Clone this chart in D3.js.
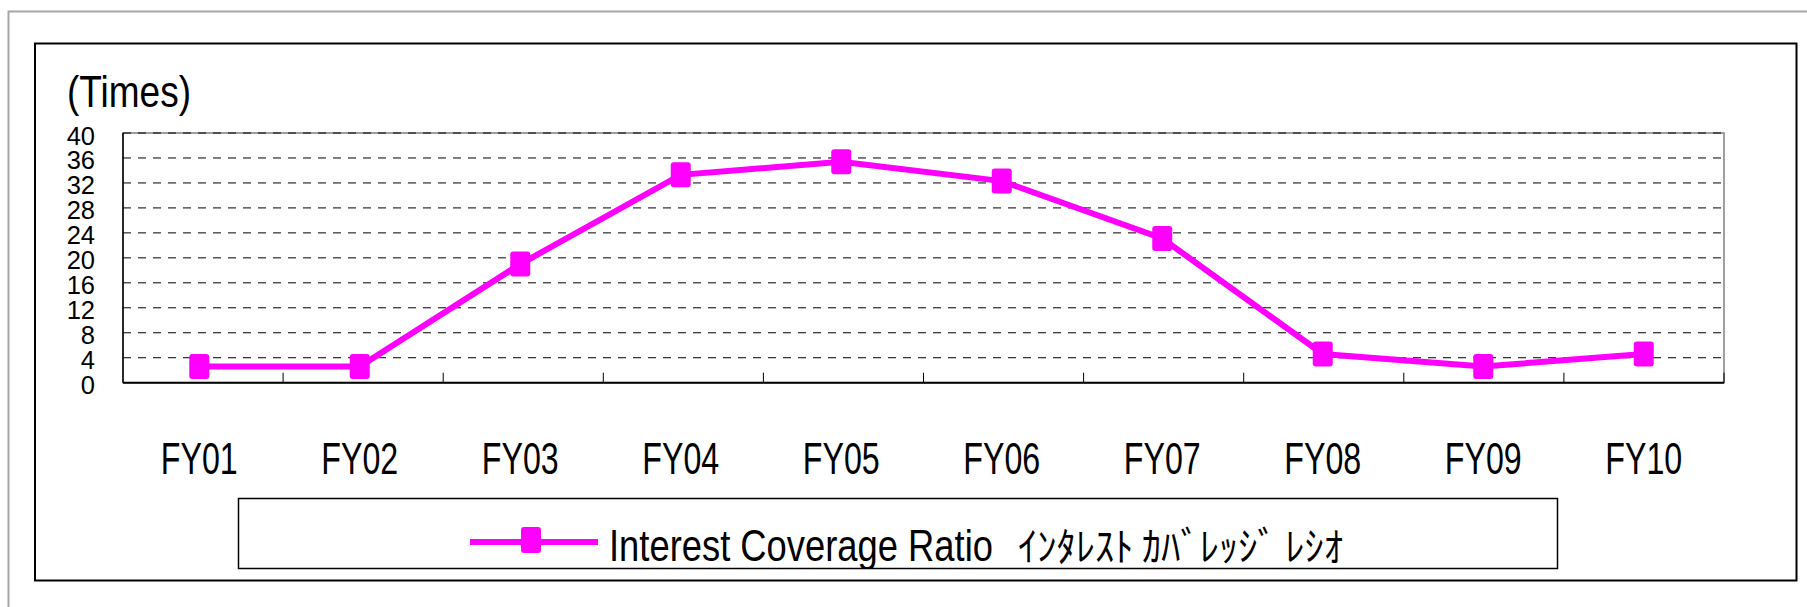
<!DOCTYPE html>
<html>
<head>
<meta charset="utf-8">
<script src="https://cdn.jsdelivr.net/npm/d3@7"></script>
<style>
  html, body { margin: 0; padding: 0; background: #fff; }
  svg { display: block; }
</style>
</head>
<body>
<script>
// ---- data ----
const categories = ["FY01", "FY02", "FY03", "FY04", "FY05", "FY06", "FY07", "FY08", "FY09", "FY10"];
const coverageValues = [2.6, 2.6, 19.0, 33.3, 35.4, 32.3, 23.1, 4.6, 2.6, 4.6];
const yTickValues = [0, 4, 8, 12, 16, 20, 24, 28, 32, 36, 40];
const unitLabel = "(Times)";
const seriesNameEn = "Interest Coverage Ratio";
const seriesNameJa = "ｲﾝﾀﾚｽﾄ ｶﾊﾞﾚｯｼﾞ ﾚｼｵ";

// ---- layout ----
const W = 1807, H = 607;
const plot = { left: 123, right: 1724, top: 133, bottom: 382.7 };
const magenta = "#FF00FF";
const latin = "'Liberation Sans', Arial, 'DejaVu Sans', sans-serif";
const cjk = "'Noto Sans CJK JP', 'Noto Sans CJK SC', sans-serif";

const svg = d3.select("body").append("svg").attr("width", W).attr("height", H);

// condensed text helper: horizontal scale so that the text spans `width`
function condensed(parent, x, y, txt, size, family, width, anchor) {
  const t = parent.append("text")
    .attr("x", 0).attr("y", 0)
    .attr("text-anchor", anchor || "start")
    .attr("font-family", family).attr("font-size", size).attr("fill", "#000")
    .text(txt);
  const natural = t.node().getComputedTextLength();
  const k = natural > 0 ? width / natural : 1;
  t.attr("transform", `translate(${x},${y}) scale(${k},1)`);
  return t;
}

// outer gray border (continues past right / bottom edges)
svg.append("rect").attr("x", 8.5).attr("y", 11.5).attr("width", W).attr("height", H)
  .attr("fill", "#fff").attr("stroke", "#a6a6a6").attr("stroke-width", 2);
// inner chart frame
svg.append("rect").attr("x", 35).attr("y", 43.5).attr("width", 1761.5).attr("height", 537)
  .attr("fill", "#fff").attr("stroke", "#000").attr("stroke-width", 2);

// scales
const xBand = d3.scaleBand().domain(categories).range([plot.left, plot.right]).padding(0);
const xPt = d3.scalePoint().domain(categories).range([plot.left - 4, plot.right]).padding(0.5);
const y = d3.scaleLinear().domain([0, 40]).range([plot.bottom, plot.top]);

// plot border
svg.append("rect").attr("x", plot.left).attr("y", plot.top)
  .attr("width", plot.right - plot.left).attr("height", plot.bottom - plot.top)
  .attr("fill", "#fff").attr("stroke", "#808080").attr("stroke-width", 1.5);

// gridlines
svg.append("g").selectAll("line").data(yTickValues.filter(v => v > 0)).join("line")
  .attr("x1", plot.left).attr("x2", plot.right)
  .attr("y1", d => y(d)).attr("y2", d => y(d))
  .attr("stroke", "#000").attr("stroke-width", 1).attr("stroke-dasharray", "8,7");

// axes lines
svg.append("line").attr("x1", plot.left).attr("x2", plot.left).attr("y1", plot.top).attr("y2", plot.bottom)
  .attr("stroke", "#000").attr("stroke-width", 1.5);
svg.append("line").attr("x1", plot.left).attr("x2", plot.right).attr("y1", plot.bottom).attr("y2", plot.bottom)
  .attr("stroke", "#000").attr("stroke-width", 2);

// x tick marks between categories (pointing inside)
const tickXs = categories.slice(1).map(c => xBand(c)).concat([plot.right]);
svg.append("g").selectAll("line").data(tickXs).join("line")
  .attr("x1", d => d).attr("x2", d => d)
  .attr("y1", plot.bottom).attr("y2", plot.bottom - 10)
  .attr("stroke", "#000").attr("stroke-width", 1);

// y tick labels
svg.append("g").selectAll("text").data(yTickValues).join("text")
  .attr("x", 95).attr("y", d => y(d) + 11.5)
  .attr("text-anchor", "end")
  .attr("font-family", latin).attr("font-size", 25.5).attr("fill", "#000")
  .text(d => d);

// unit label
condensed(svg, 67, 107, unitLabel, 44, latin, 124, "start");

// x category labels
const xLabels = svg.append("g");
categories.forEach(c => condensed(xLabels, xPt(c), 473.5, c, 44, latin, 77, "middle"));

// series line
const lineGen = d3.line().x((d, i) => xPt(categories[i])).y(d => y(d));
svg.append("path").datum(coverageValues).attr("d", lineGen)
  .attr("fill", "none").attr("stroke", magenta).attr("stroke-width", 6);

// markers
svg.append("g").selectAll("rect").data(coverageValues).join("rect")
  .attr("x", (d, i) => xPt(categories[i]) - 10).attr("y", d => y(d) - 12.5)
  .attr("width", 20).attr("height", 25).attr("rx", 3)
  .attr("fill", magenta);

// legend
const leg = { x: 238.5, y: 498.5, w: 1319, h: 70 };
svg.append("clipPath").attr("id", "legclip").append("rect")
  .attr("x", leg.x).attr("y", leg.y).attr("width", leg.w).attr("height", leg.h);
svg.append("rect").attr("x", leg.x).attr("y", leg.y).attr("width", leg.w).attr("height", leg.h)
  .attr("fill", "#fff").attr("stroke", "#000").attr("stroke-width", 1.5);
const lg = svg.append("g").attr("clip-path", "url(#legclip)");
lg.append("line").attr("x1", 470).attr("x2", 598).attr("y1", 542).attr("y2", 542)
  .attr("stroke", magenta).attr("stroke-width", 6);
lg.append("rect").attr("x", 521).attr("y", 527).attr("width", 20).attr("height", 26).attr("rx", 3)
  .attr("fill", magenta);
condensed(lg, 609, 561, seriesNameEn, 44, latin, 384, "start");
condensed(lg, 1018, 561, seriesNameJa, 40, cjk, 325, "start");
</script>
</body>
</html>
